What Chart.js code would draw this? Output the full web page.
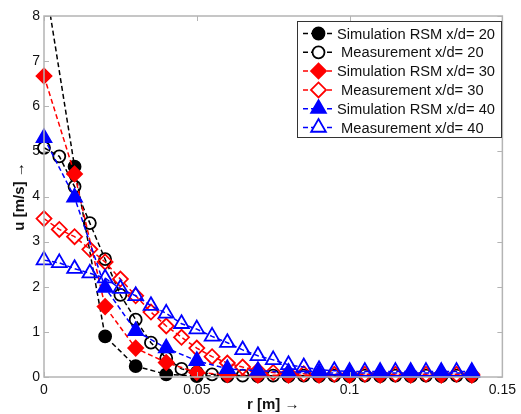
<!DOCTYPE html>
<html>
<head>
<meta charset="utf-8">
<script src="https://cdn.jsdelivr.net/npm/chart.js@4"></script>
<style>
  html, body { margin: 0; padding: 0; background: #fff; }
  #wrap { width: 521px; height: 414px; position: relative; }
</style>
</head>
<body>
<div id="wrap"><canvas id="chart"></canvas></div>
<script>
// r positions [m]
const rSim = [0, 0.01, 0.02, 0.03, 0.04, 0.05, 0.06, 0.07, 0.08, 0.09, 0.10, 0.11, 0.12, 0.13, 0.14];
const rMeas = [0, 0.005, 0.01, 0.015, 0.02, 0.025, 0.03, 0.035, 0.04, 0.045, 0.05, 0.055, 0.06, 0.065, 0.07,
  0.075, 0.08, 0.085, 0.09, 0.095, 0.10, 0.105, 0.11, 0.115, 0.12, 0.125, 0.13, 0.135, 0.14];

// u [m/s]
const simRsm20 = [8.9, 4.66, 0.9, 0.24, 0.06, 0.02, 0.02, 0.02, 0.02, 0.02, 0.02, 0.02, 0.02, 0.02, 0.02];
const meas20 = [5.08, 4.89, 4.22, 3.41, 2.61, 1.82, 1.27, 0.76, 0.42, 0.18, 0.1, 0.06, 0.04, 0.03, 0.03,
  0.03, 0.03, 0.03, 0.03, 0.03, 0.03, 0.03, 0.03, 0.03, 0.03, 0.03, 0.03, 0.03, 0.03];
const simRsm30 = [6.67, 4.5, 1.56, 0.64, 0.32, 0.1, 0.05, 0.04, 0.04, 0.04, 0.04, 0.04, 0.04, 0.04, 0.04];
const meas30 = [3.51, 3.27, 3.11, 2.83, 2.55, 2.17, 1.8, 1.44, 1.13, 0.88, 0.64, 0.45, 0.31, 0.22, 0.14,
  0.1, 0.08, 0.07, 0.06, 0.06, 0.06, 0.06, 0.06, 0.06, 0.06, 0.06, 0.06, 0.06, 0.06];
const simRsm40 = [5.3, 3.98, 1.98, 1.02, 0.64, 0.36, 0.18, 0.14, 0.1, 0.09, 0.09, 0.09, 0.09, 0.09, 0.09];
const meas40 = [2.59, 2.53, 2.4, 2.3, 2.19, 1.96, 1.8, 1.58, 1.41, 1.18, 1.06, 0.9, 0.76, 0.6, 0.47,
  0.38, 0.27, 0.22, 0.16, 0.14, 0.12, 0.12, 0.12, 0.12, 0.12, 0.12, 0.12, 0.12, 0.12];

const labels = ['Simulation RSM x/d= 20', ' Measurement x/d= 20', 'Simulation RSM x/d= 30',
  ' Measurement x/d= 30', 'Simulation RSM x/d= 40', ' Measurement x/d= 40'];
const xTicks = [0, 0.05, 0.1, 0.15];
const yTicks = [0, 1, 2, 3, 4, 5, 6, 7, 8];

const FONT = 'Arial, "Liberation Sans", sans-serif';
const frameColor = '#b4b4b4';

const toPoints = (xs, ys) => xs.map((x, i) => ({ x, y: ys[i] }));

function series(idx, xs, ys, color, style, filled, radius) {
  return {
    label: labels[idx],
    data: toPoints(xs, ys),
    borderColor: color,
    borderWidth: 1.5,
    borderDash: [5, 3],
    pointStyle: style,
    pointRadius: radius,
    pointHoverRadius: radius,
    pointBorderWidth: 1.8,
    pointBorderColor: color,
    pointBackgroundColor: filled ? color : 'rgba(0,0,0,0)',
    showLine: true,
    fill: false,
    tension: 0,
    order: 5 - idx,
    clip: { left: 10, top: 0, right: 10, bottom: 10 }
  };
}

// frame, inward ticks and legend box like the matlab figure
const matlabAxes = {
  id: 'matlabAxes',
  afterDraw(chart) {
    const { ctx, chartArea: a, scales } = chart;
    ctx.save();
    ctx.strokeStyle = frameColor;
    ctx.lineWidth = 1.5;
    ctx.strokeRect(a.left, a.top, a.right - a.left, a.bottom - a.top);
    ctx.lineWidth = 1;
    ctx.beginPath();
    for (const v of xTicks) {
      const px = Math.round(scales.x.getPixelForValue(v)) + 0.5;
      ctx.moveTo(px, a.bottom); ctx.lineTo(px, a.bottom - 5);
      ctx.moveTo(px, a.top); ctx.lineTo(px, a.top + 5);
    }
    for (const v of yTicks) {
      const py = Math.round(scales.y.getPixelForValue(v)) + 0.5;
      ctx.moveTo(a.left, py); ctx.lineTo(a.left + 5, py);
      ctx.moveTo(a.right, py); ctx.lineTo(a.right - 5, py);
    }
    ctx.stroke();

    // legend
    const box = { x: 297, y: 21, w: 204, h: 116 };
    ctx.fillStyle = '#fff';
    ctx.fillRect(box.x, box.y, box.w, box.h);
    ctx.strokeStyle = '#333';
    ctx.lineWidth = 1;
    ctx.strokeRect(box.x + 0.5, box.y + 0.5, box.w, box.h);
    ctx.font = `14.7px ${FONT}`;
    ctx.textBaseline = 'middle';
    chart.data.datasets.forEach((ds, i) => {
      const cy = 33.5 + i * 18.8;
      ctx.strokeStyle = ds.borderColor;
      ctx.lineWidth = 1.5;
      ctx.setLineDash([5, 3]);
      ctx.beginPath();
      ctx.moveTo(303, cy); ctx.lineTo(334, cy);
      ctx.stroke();
      ctx.setLineDash([]);
      ctx.fillStyle = ds.pointBackgroundColor === 'rgba(0,0,0,0)' ? '#fff' : ds.pointBackgroundColor;
      ctx.strokeStyle = ds.borderColor;
      ctx.lineWidth = 1.8;
      Chart.helpers.drawPoint(ctx, { pointStyle: ds.pointStyle, radius: ds.pointRadius, rotation: 0, borderWidth: 1.8 }, 318.5, cy);
      ctx.fillStyle = '#111';
      ctx.fillText(ds.label, 337, cy + 1);
    });
    ctx.restore();
  }
};

new Chart(document.getElementById('chart'), {
  type: 'scatter',
  data: {
    datasets: [
      series(0, rSim, simRsm20, '#000000', 'circle', true, 6),
      series(1, rMeas, meas20, '#000000', 'circle', false, 6),
      series(2, rSim, simRsm30, '#ff0000', 'rectRot', true, 7.5),
      series(3, rMeas, meas30, '#ff0000', 'rectRot', false, 7.5),
      series(4, rSim, simRsm40, '#0000ff', 'triangle', true, 8.5),
      series(5, rMeas, meas40, '#0000ff', 'triangle', false, 8.5)
    ]
  },
  options: {
    responsive: true,
    maintainAspectRatio: false,
    animation: false,
    layout: { padding: { top: 16, right: 16, left: 0, bottom: 0 } },
    plugins: { legend: { display: false }, tooltip: { enabled: false } },
    scales: {
      x: {
        type: 'linear',
        min: 0, max: 0.15,
        afterFit: (s) => { s.height = 37; },
        afterBuildTicks: (s) => { s.ticks = xTicks.map(v => ({ value: v })); },
        grid: { display: false, drawTicks: false },
        border: { display: false },
        ticks: {
          color: '#111', padding: 5,
          font: { family: FONT, size: 14 },
          callback: (v) => String(+v.toFixed(2))
        },
        title: {
          display: true, text: 'r [m] \u2192', color: '#111',
          font: { family: FONT, size: 15, weight: 'bold' },
          padding: { top: 8, bottom: 0 }
        }
      },
      y: {
        type: 'linear',
        min: 0, max: 8,
        afterFit: (s) => { s.width = 44; },
        afterBuildTicks: (s) => { s.ticks = yTicks.map(v => ({ value: v })); },
        grid: { display: false, drawTicks: false },
        border: { display: false },
        ticks: {
          color: '#111', padding: 4,
          font: { family: FONT, size: 14 }
        },
        title: {
          display: true, text: 'u [m/s] \u2192', color: '#111',
          font: { family: FONT, size: 15, weight: 'bold' },
          padding: { top: 11, bottom: 0 }
        }
      }
    }
  },
  plugins: [matlabAxes]
});
</script>
</body>
</html>
